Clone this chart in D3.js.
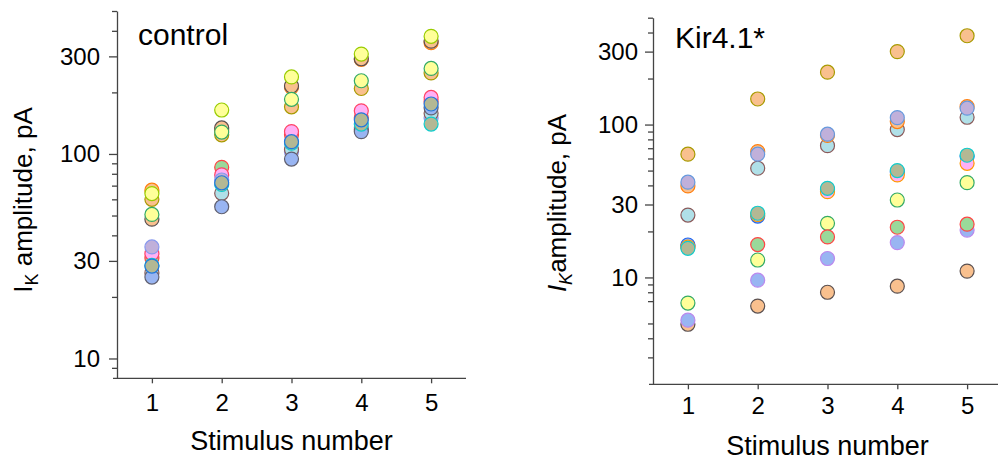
<!DOCTYPE html>
<html>
<head>
<meta charset="utf-8">
<script src="https://cdn.jsdelivr.net/npm/d3@7"></script>
<style>
  html, body { margin: 0; padding: 0; background: #fff; }
  svg { display: block; font-family: "Liberation Sans", Arial, sans-serif; }
</style>
</head>
<body>
<svg id="chart" width="998" height="461"></svg>
<script>
// ---------- DATA ----------
const stimuli = [1, 2, 3, 4, 5];

const yMajorTicks = [10, 30, 100, 300];
const yMinorTicksControl = [9, 20, 40, 50, 60, 70, 80, 90, 200, 400, 500];
const yMinorTicksKir = [3, 4, 5, 7, 8, 9, 20, 40, 50, 60, 70, 80, 90, 200, 400, 500];

const panelTitles = ["control", "Kir4.1*"];
const xAxisTitle = "Stimulus number";

// control cells (drawn in this order, later on top)
const controlCellNames = ["c1","c2","c3","c4","c5","c6","c7","c8","c9","c10","c11","c12"];
const controlFill   = ["#F9C08E","#F9C08E","#F9C08E","#FFFF99","#FFFF99","#9AD99A","#FFB0F5","#C0B0DA","#B0E0E8","#99B5F2","#B3B894","#B3B894"];
const controlStroke = ["#FF7F0E","#5A5050","#A89A00","#33AA66","#99CC00","#FF4444","#FF4466","#8899EE","#8A5A5A","#606070","#10CCCC","#2277DD"];
const controlC1  = [66.5, 131, 212, 290, 350];
const controlC2  = [48, 134, 215, 292, 356];
const controlC3  = [60, 124, 170, 209, 249];
const controlC4  = [50.6, 128, 185, 228, 262];
const controlC5  = [64, 164, 238, 308, 376];
const controlC6  = [31, 86, 124, 150, 180];
const controlC7  = [32.6, 79, 128.6, 162.6, 189];
const controlC8  = [35.1, 74.6, 102.6, 135, 150];
const controlC9  = [26.2, 64.2, 105, 132, 158];
const controlC10 = [25.0, 55.2, 94.4, 128.6, 168];
const controlC11 = [28.5, 71, 113, 140, 140];
const controlC12 = [28.3, 72.3, 114.8, 146.9, 175.5];
const controlSeries = [controlC1, controlC2, controlC3, controlC4, controlC5, controlC6,
                       controlC7, controlC8, controlC9, controlC10, controlC11, controlC12];

// Kir4.1* cells
const kirCellNames = ["k1","k2","k3","k4","k5","k6","k7","k8","k9","k10","k11"];
const kirFill   = ["#F9C08E","#99B5F2","#FFFF99","#9AD99A","#99B5F2","#FFB0F5","#B3B894","#B0E0E8","#F9C08E","#C0B0DA","#F9C08E"];
const kirStroke = ["#5A5050","#BB88EE","#33AA66","#FF4444","#2266EE","#FF9900","#10CCCC","#8A5A5A","#FF7F0E","#6699DD","#A89A00"];
const kirK1  = [4.94, 6.5, 8.0, 8.77, 11.0];
const kirK2  = [5.25, 9.6, 13.3, 16.9, 20.4];
const kirK3  = [6.8, 13, 22.6, 32.1, 41.7];
const kirK4  = [16, 16.4, 18.4, 21.3, 22.3];
const kirK5  = [16.3, 25.2, 37.5, 49, 62];
const kirK6  = [15.8, 25.8, 36.4, 46.8, 55.8];
const kirK7  = [15.5, 26.3, 38.3, 50, 63];
const kirK8  = [25.6, 51.8, 72.8, 92.7, 111.6];
const kirK9  = [39.7, 66.5, 85, 104.6, 131];
const kirK10 = [42, 64, 86.5, 111, 128];
const kirK11 = [64, 147, 220, 300, 381];
const kirSeries = [kirK1, kirK2, kirK3, kirK4, kirK5, kirK6, kirK7, kirK8, kirK9, kirK10, kirK11];

// ---------- DRAW ----------
const svg = d3.select("#chart");
const axisColor = "#444";

function drawPanel(cfg) {
  const g = svg.append("g");
  const x = d3.scaleLinear().domain([0.5, 5.5]).range([cfg.x0, cfg.x0 + 349]);
  const y = d3.scaleLog().domain(cfg.yDomain).range([cfg.yBottom, cfg.yTop]);

  // y axis major
  g.append("g").attr("transform", `translate(${cfg.x0},0)`)
    .call(d3.axisLeft(y).tickValues(yMajorTicks).tickFormat(d3.format("d"))
      .tickSize(8).tickSizeOuter(0).tickPadding(cfg.yPad));
  // y axis minor
  const yMin = g.append("g").attr("transform", `translate(${cfg.x0},0)`)
    .call(d3.axisLeft(y).tickValues(cfg.minor).tickFormat("").tickSize(5).tickSizeOuter(0));
  yMin.select(".domain").remove();

  // x axis
  const xAx = g.append("g").attr("transform", `translate(0,${cfg.yBottom})`)
    .call(d3.axisBottom(x).tickValues(stimuli).tickFormat(d3.format("d"))
      .tickSize(5).tickSizeOuter(0).tickPadding(cfg.xPad));
  xAx.select(".domain").remove();
  g.append("line")
    .attr("x1", x.range()[0] - 4).attr("x2", x.range()[1])
    .attr("y1", cfg.yBottom).attr("y2", cfg.yBottom)
    .attr("stroke", axisColor).attr("stroke-width", 1.3);

  g.selectAll(".domain, .tick line").attr("stroke", axisColor).attr("stroke-width", 1.3);
  g.selectAll(".tick text").attr("fill", "#000").attr("font-size", 24)
    .attr("font-family", '"Liberation Sans", Arial, sans-serif');

  // points
  cfg.series.forEach((vals, i) => {
    g.append("g").attr("class", "cell-" + cfg.names[i])
      .selectAll("circle")
      .data(vals.map((v, j) => ({ s: stimuli[j], v })))
      .join("circle")
      .attr("cx", d => x(d.s))
      .attr("cy", d => y(d.v))
      .attr("r", 7)
      .attr("fill", cfg.fills[i])
      .attr("stroke", cfg.strokes[i])
      .attr("stroke-width", 1.2);
  });

  // panel title
  g.append("text").attr("x", cfg.titleX).attr("y", cfg.titleY)
    .attr("font-size", 30).attr("fill", "#000").text(cfg.title);

  // x title
  g.append("text").attr("x", (x.range()[0] + x.range()[1]) / 2).attr("y", cfg.xTitleY)
    .attr("text-anchor", "middle").attr("font-size", 27).attr("fill", "#000")
    .text(xAxisTitle);

  // y title
  const yt = g.append("text")
    .attr("transform", `translate(${cfg.yTitleX},${cfg.yTitleY}) rotate(-90)`)
    .attr("text-anchor", "middle").attr("font-size", 26).attr("fill", "#000");
  yt.append("tspan").attr("font-style", cfg.italic ? "italic" : "normal").text("I");
  yt.append("tspan").attr("font-style", cfg.italic ? "italic" : "normal")
    .attr("font-size", 18).attr("dy", 6).text("K");
  yt.append("tspan").attr("dy", -6).text(cfg.italic ? "amplitude, pA" : " amplitude, pA");
}

drawPanel({
  x0: 117, yTop: 11, yBottom: 378.3, yDomain: [8, 500],
  minor: yMinorTicksControl, yPad: 9, xPad: 11,
  series: controlSeries, names: controlCellNames, fills: controlFill, strokes: controlStroke,
  title: panelTitles[0], titleX: 138, titleY: 45,
  xTitleY: 450, yTitleX: 32, yTitleY: 200, italic: false
});

drawPanel({
  x0: 653, yTop: 17.7, yBottom: 384.3, yDomain: [2, 500],
  minor: yMinorTicksKir, yPad: 7, xPad: 8,
  series: kirSeries, names: kirCellNames, fills: kirFill, strokes: kirStroke,
  title: panelTitles[1], titleX: 675, titleY: 48,
  xTitleY: 455, yTitleX: 566, yTitleY: 203, italic: true
});
</script>
</body>
</html>
